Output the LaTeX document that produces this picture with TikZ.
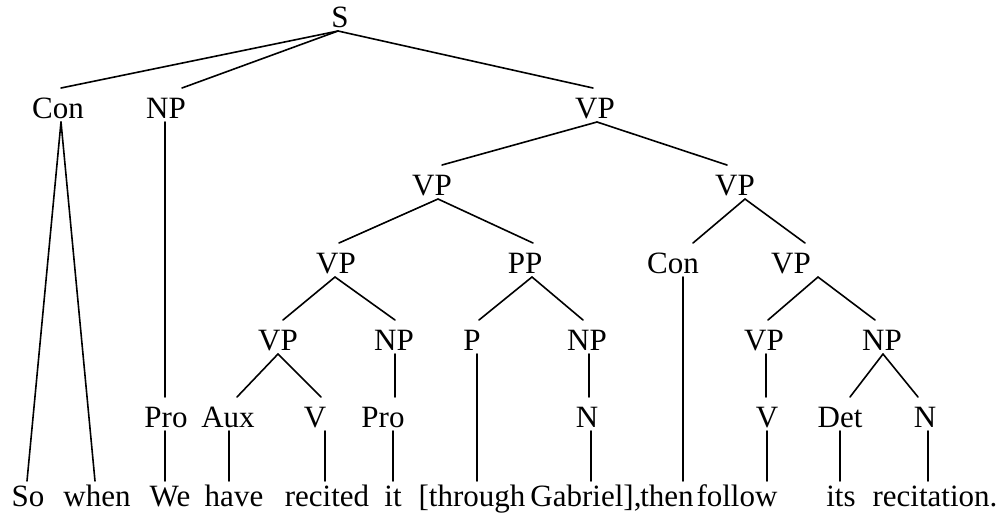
\documentclass[tikz,border=0pt]{standalone}
\usepackage{fontspec}
\setmainfont{Liberation Serif}
\newcommand\tredge[4]{\draw[edge] ([xshift=#2pt]#1.south) -- ([xshift=#4pt]#3.north);}
\begin{document}
\begin{tikzpicture}[x=1pt,y=-1pt,
  lab/.style={font=\fontsize{31}{37}\selectfont, inner sep=0pt, outer sep=0pt, anchor=base, text height=30pt, text depth=4pt},
  word/.style={lab, text height=25pt, text depth=0pt},
  edge/.style={line width=1.6pt, line cap=round}]
\useasboundingbox (0,0) rectangle (1006,515);
% phrase labels
\node[lab] (S) at (340,27) {S};
\node[lab] (con1) at (58,118) {Con};
\node[lab] (np1) at (166,118) {NP};
\node[lab] (vp1) at (595,118) {VP};
\node[lab] (vp2a) at (432,195) {VP};
\node[lab] (vp2b) at (735,195) {VP};
\node[lab] (vp3a) at (336,273) {VP};
\node[lab] (pp3) at (525,273) {PP};
\node[lab] (con3) at (673,273) {Con};
\node[lab] (vp3b) at (791,273) {VP};
\node[lab] (vp4a) at (278,350) {VP};
\node[lab] (np4a) at (394,350) {NP};
\node[lab] (p4) at (472,350) {P};
\node[lab] (np4b) at (587,350) {NP};
\node[lab] (vp4b) at (764,350) {VP};
\node[lab] (np4c) at (882,350) {NP};
\node[lab] (pro5a) at (166,427) {Pro};
\node[lab] (aux5) at (228,427) {Aux};
\node[lab] (v5a) at (315,427) {V};
\node[lab] (pro5b) at (383,427) {Pro};
\node[lab] (n5a) at (587,427) {N};
\node[lab] (v5b) at (767,427) {V};
\node[lab] (det5) at (840,427) {Det};
\node[lab] (n5b) at (925,427) {N};
% words
\node[word] (w1) at (28,506) {So};
\node[word] (w2) at (97,506) {when};
\node[word] (w3) at (170,506) {We};
\node[word] (w4) at (234,506) {have};
\node[word] (w5) at (327,506) {recited};
\node[word] (w6) at (393,506) {it};
\node[word] (w7) at (472,506) {[through};
\node[word] (w8) at (586,506) {Gabriel],};
\node[word] (w9) at (667,506) {then};
\node[word] (w10) at (737,506) {follow};
\node[word] (w11) at (841,506) {its};
\node[word] (w12) at (935,506) {recitation.};
% edges
\tredge{S}{-2}{con1}{3}
\tredge{S}{-2}{np1}{16}
\tredge{S}{-2}{vp1}{-2}
\tredge{con1}{3}{w1}{-1}
\tredge{con1}{3}{w2}{-2}
\tredge{np1}{-1}{pro5a}{-1}
\tredge{pro5a}{-1}{w3}{-5}
\tredge{vp1}{2}{vp2a}{10}
\tredge{vp1}{2}{vp2b}{-8}
\tredge{vp2a}{6}{vp3a}{3}
\tredge{vp2a}{6}{pp3}{8}
\tredge{vp2b}{10}{con3}{20}
\tredge{vp2b}{10}{vp3b}{14}
\tredge{vp3a}{-1}{vp4a}{5}
\tredge{vp3a}{-1}{np4a}{1}
\tredge{pp3}{7}{p4}{7}
\tredge{pp3}{7}{np4b}{-4}
\tredge{con3}{10}{w9}{16}
\tredge{vp3b}{27}{vp4b}{4}
\tredge{vp3b}{27}{np4c}{-7}
\tredge{vp4a}{0}{aux5}{9}
\tredge{vp4a}{0}{v5a}{6}
\tredge{np4a}{1}{pro5b}{12}
\tredge{p4}{5}{w7}{5}
\tredge{np4b}{2}{n5a}{2}
\tredge{vp4b}{2}{v5b}{-1}
\tredge{np4c}{1}{det5}{10}
\tredge{np4c}{1}{n5b}{-7}
\tredge{aux5}{1}{w4}{-5}
\tredge{v5a}{10}{w5}{-2}
\tredge{pro5b}{10}{w6}{0}
\tredge{n5a}{4}{w8}{5}
\tredge{v5b}{0}{w10}{30}
\tredge{det5}{0}{w11}{-1}
\tredge{n5b}{3}{w12}{-7}
\end{tikzpicture}
\end{document}
